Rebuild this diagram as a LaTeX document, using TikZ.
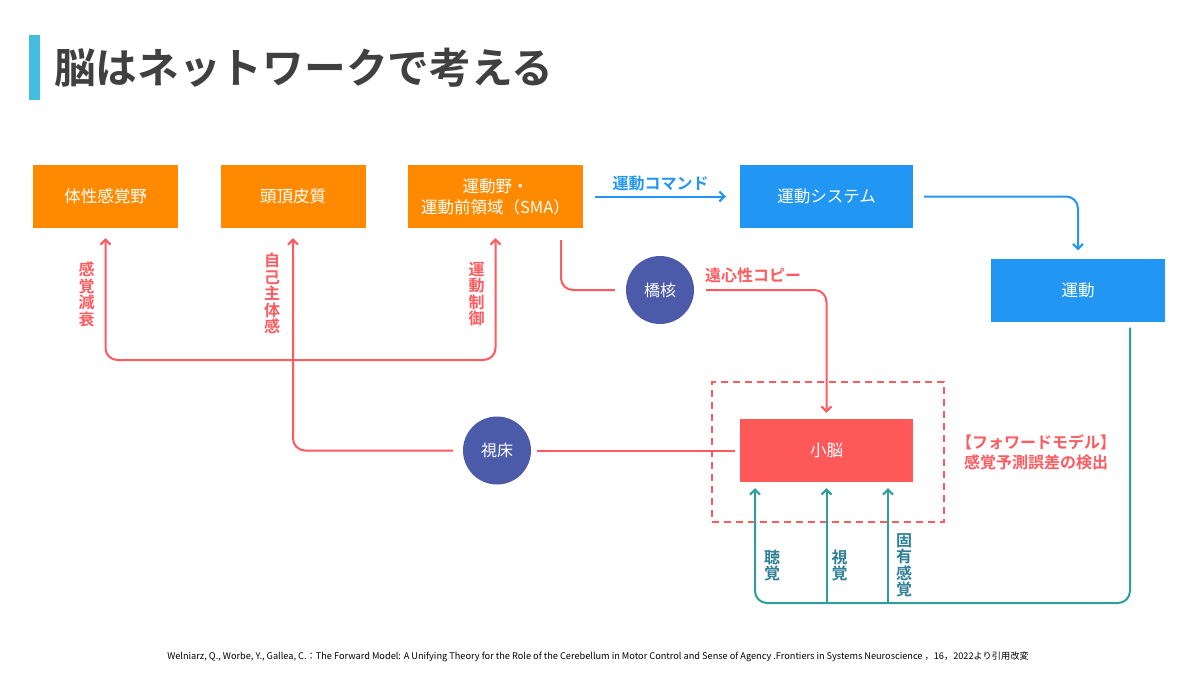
\documentclass[tikz,border=0pt]{standalone}
\usepackage{fontspec}
\setmainfont{Noto Sans CJK JP}[BoldFont={Noto Sans CJK JP Bold}]
\usetikzlibrary{arrows.meta,positioning}
\definecolor{boxorange}{HTML}{FF8A00}
\definecolor{boxblue}{HTML}{2196F3}
\definecolor{boxred}{HTML}{FF5858}
\definecolor{linered}{HTML}{FF5A5F}
\definecolor{nucleusblue}{HTML}{4C5BA9}
\definecolor{senseteal}{HTML}{2E9E9C}
\definecolor{labelteal}{HTML}{2F8095}
\definecolor{titlebar}{HTML}{45BDE0}
\definecolor{titlegray}{HTML}{404040}

\begin{document}
\begin{tikzpicture}[x=1pt,y=-1pt]
\tikzstyle{area}=[rectangle,minimum height=63pt,inner sep=0pt,text=white,align=center,font=\fontsize{16.5}{21}\selectfont]
\tikzstyle{nucleus}=[circle,fill=nucleusblue,minimum size=68pt,inner sep=0pt,text=white,font=\fontsize{16}{18}\selectfont]
\tikzstyle{redline}=[draw=linered,line width=2pt,rounded corners=12pt]
\tikzstyle{redarrow}=[redline,-{Straight Barb[length=5pt,width=10pt]}]
\tikzstyle{bluearrow}=[draw=boxblue,line width=2pt,rounded corners=12pt,-{Straight Barb[length=5pt,width=10pt]}]
\tikzstyle{tealline}=[draw=senseteal,line width=2pt,rounded corners=12pt]
\tikzstyle{tealarrow}=[tealline,-{Straight Barb[length=5pt,width=10pt]}]
\tikzstyle{vlabel}=[inner sep=0pt,align=center,font=\bfseries\fontsize{16}{16.5}\selectfont]
\fill[white] (0,0) rectangle (1200,675);
\useasboundingbox (0,0) rectangle (1200,675);
% title
\fill[titlebar] (29,35) rectangle (40,100);
\node[anchor=west,inner sep=0pt,text=titlegray,font=\bfseries\fontsize{41.7}{42}\selectfont] (title) at (54,68) {脳はネットワークで考える};
% areas
\node[area,fill=boxorange,minimum width=145pt] (sens) at (105.5,196.5) {体性感覚野};
\node[area,fill=boxorange,minimum width=145pt] (pari) at (293,196.5) {頭頂皮質};
\node[area,fill=boxorange,minimum width=175pt] (sma) at (495.5,196.5) {運動野・\\運動前領域（SMA）};
\node[area,fill=boxblue,minimum width=173pt] (motsys) at (826.5,196.5) {運動システム};
\node[area,fill=boxblue,minimum width=174pt] (motion) at (1078,290) {運動};
\node[area,fill=boxred,minimum width=173pt] (cereb) at (826.5,450.5) {小脳};
\node[nucleus] (pons) at (660,290) {橋核};
\node[nucleus] (thal) at (497,450.5) {視床};
\node[draw=linered,line width=2pt,dash pattern=on 7pt off 5pt,minimum width=232pt,minimum height=140pt] (fwd) at (828,452) {};
\node[text=linered,align=center,inner sep=0pt,font=\bfseries\fontsize{16}{20}\selectfont] (fwdnote) at (1036,452) {【フォワードモデル】\\感覚予測誤差の検出};
\coordinate (fork) at (293,360);
\coordinate (bus) at (826.5,603);
% motor command
\draw[bluearrow] ([xshift=12pt]sma.east) -- node[above=4pt,inner sep=0pt,text=boxblue,font=\bfseries\fontsize{16}{18}\selectfont] {運動コマンド} ([xshift=-14pt]motsys.west);
\draw[bluearrow] ([xshift=11pt]motsys.east) -| ([yshift=8pt]motion.north);
% efference copy
\draw[redline] ([xshift=65.5pt,yshift=-12pt]sma.south) |- ([xshift=-11pt]pons.west);
\draw[redarrow] ([xshift=12pt]pons.east) -| node[pos=0,anchor=west,xshift=-2pt,yshift=15pt,inner sep=0pt,text=linered,font=\bfseries\fontsize{16}{18}\selectfont] {遠心性コピー} ([yshift=6pt]cereb.north);
% cerebellum to cortex
\draw[redline] ([xshift=-5pt]cereb.west) -- ([xshift=6pt]thal.east);
\draw[redarrow] ([xshift=-10pt]thal.west) -| node[pos=0.87,left=12pt,vlabel,text=linered] {自\\己\\主\\体\\感} ([yshift=-10pt]pari.south);
\draw[redarrow] (fork) -| node[pos=0.77,left=10pt,vlabel,text=linered] {感\\覚\\減\\衰} ([yshift=-10pt]sens.south);
\draw[redarrow] (fork) -| node[pos=0.77,left=10pt,vlabel,text=linered] {運\\動\\制\\御} ([yshift=-10pt]sma.south);
% sensory feedback
\draw[tealline] ([xshift=52pt,yshift=-6pt]motion.south) |- (bus);
\draw[tealarrow] (bus) -| node[pos=0.664,right=8pt,vlabel,text=labelteal] {聴\\覚} ([xshift=-71.5pt,yshift=-6pt]cereb.south);
\draw[tealarrow] (bus) -- node[pos=0.328,right=4pt,vlabel,text=labelteal] {視\\覚} ([yshift=-6pt]cereb.south);
\draw[tealarrow] ([xshift=61.5pt]bus) -- node[pos=0.328,right=7pt,vlabel,text=labelteal] {固\\有\\感\\覚} ([xshift=61.5pt,yshift=-6pt]cereb.south);
% source
\node[inner sep=0pt,font=\fontsize{9.2}{10}\selectfont] (source) at (598,657) {Welniarz, Q., Worbe, Y., Gallea, C.：The Forward Model: A Unifying Theory for the Role of the Cerebellum in Motor Control and Sense of Agency .Frontiers in Systems Neuroscience ，16，2022より引用改変};
\end{tikzpicture}
\end{document}
